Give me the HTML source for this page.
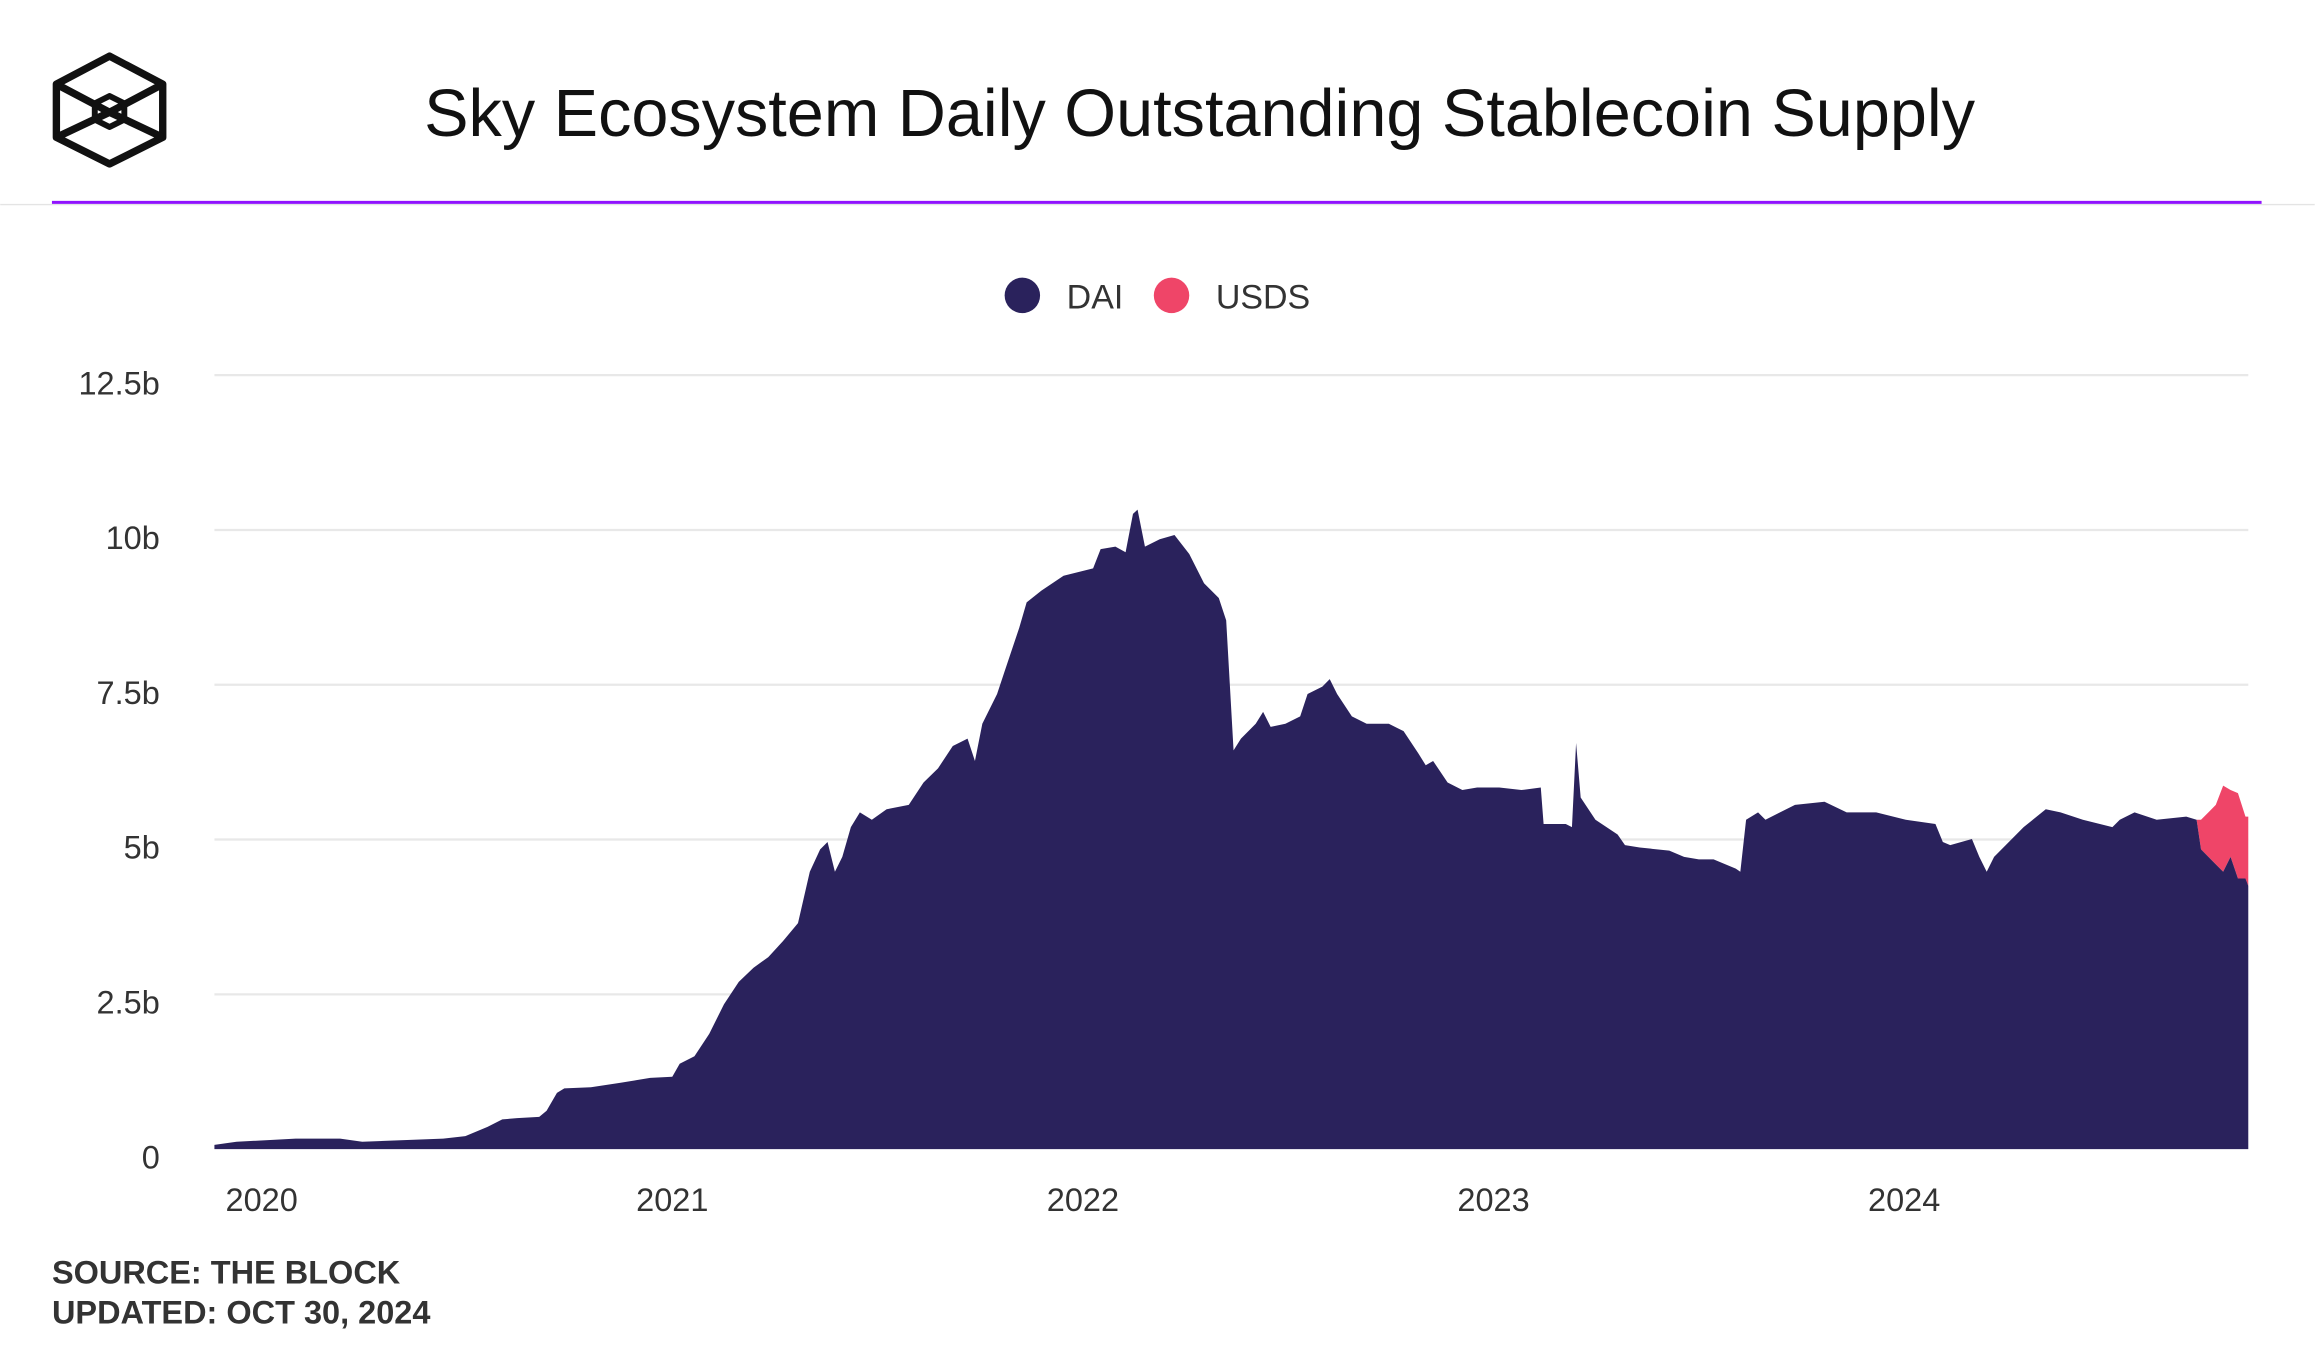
<!DOCTYPE html>
<html><head><meta charset="utf-8"><style>
html,body{margin:0;padding:0;background:#fff;}
svg{display:block;font-family:"Liberation Sans",sans-serif;}
</style></head><body>
<svg id="chart" width="2315" height="1350" viewBox="0 0 1567 914" xmlns="http://www.w3.org/2000/svg">
<g fill="none" stroke="#111" stroke-width="5" stroke-linejoin="round">
<polygon points="74,38 110,57 110,93 74,111 38,93 38,57"/>
<polyline points="38,57 74,76 110,57"/>
<polyline points="38,93 74,76 110,93"/>
<polygon points="74,65 84,70 84,81 74,86 64,81 64,70" stroke-width="4"/>
</g>
<text x="812" y="92" text-anchor="middle" font-size="45" textLength="1050" lengthAdjust="spacingAndGlyphs" fill="#111">Sky Ecosystem Daily Outstanding Stablecoin Supply</text>
<line x1="0" y1="138.5" x2="1567" y2="138.5" stroke="#e4e4e4" stroke-width="1"/>
<line x1="35" y1="137" x2="1531" y2="137" stroke="#9013fe" stroke-width="2"/>
<g>
<circle cx="692" cy="200" r="12" fill="#2a225c"/>
<text x="722" y="209" font-size="23" fill="#333">DAI</text>
<circle cx="793" cy="200" r="12" fill="#ef4568"/>
<text x="823" y="209" font-size="23" fill="#333">USDS</text>
</g>
<g id="grid"></g>
<g id="yaxis"></g>
<g id="xaxis"></g>
<g id="series"></g>
<text x="35" y="869" font-size="22" font-weight="bold" fill="#333">SOURCE: THE BLOCK</text>
<text x="35" y="896" font-size="22" font-weight="bold" fill="#333">UPDATED: OCT 30, 2024</text>
</svg>
<script>
const dates = [2019.885,2019.939,2020.083,2020.191,2020.245,2020.442,2020.496,2020.550,2020.586,2020.622,2020.676,2020.694,2020.719,2020.737,2020.802,2020.874,2020.946,2021.000,2021.018,2021.054,2021.090,2021.126,2021.162,2021.198,2021.234,2021.270,2021.306,2021.335,2021.360,2021.378,2021.396,2021.414,2021.435,2021.457,2021.486,2021.522,2021.576,2021.612,2021.647,2021.683,2021.719,2021.737,2021.755,2021.791,2021.809,2021.845,2021.863,2021.899,2021.953,2022.025,2022.043,2022.079,2022.104,2022.122,2022.133,2022.151,2022.187,2022.223,2022.259,2022.295,2022.331,2022.349,2022.367,2022.385,2022.421,2022.439,2022.457,2022.493,2022.529,2022.547,2022.583,2022.601,2022.619,2022.655,2022.691,2022.745,2022.781,2022.817,2022.835,2022.853,2022.888,2022.924,2022.960,2023.014,2023.068,2023.115,2023.122,2023.176,2023.191,2023.201,2023.212,2023.248,2023.302,2023.320,2023.356,2023.428,2023.464,2023.500,2023.536,2023.590,2023.601,2023.615,2023.644,2023.662,2023.734,2023.806,2023.860,2023.932,2024.004,2024.076,2024.094,2024.112,2024.165,2024.183,2024.201,2024.219,2024.255,2024.291,2024.345,2024.381,2024.435,2024.507,2024.525,2024.561,2024.615,2024.687,2024.712,2024.723,2024.741,2024.759,2024.777,2024.795,2024.813,2024.831,2024.838];
const daiValues = [0.07,0.12,0.17,0.17,0.12,0.17,0.21,0.36,0.48,0.50,0.52,0.62,0.91,0.98,1.00,1.07,1.15,1.17,1.38,1.50,1.86,2.34,2.70,2.93,3.10,3.36,3.65,4.48,4.84,4.96,4.48,4.72,5.20,5.44,5.32,5.49,5.56,5.92,6.15,6.51,6.63,6.27,6.87,7.35,7.71,8.42,8.83,9.02,9.26,9.38,9.69,9.73,9.64,10.26,10.33,9.73,9.85,9.92,9.61,9.14,8.90,8.54,6.44,6.63,6.87,7.06,6.82,6.87,6.99,7.35,7.47,7.59,7.35,6.99,6.87,6.87,6.75,6.39,6.20,6.27,5.92,5.80,5.84,5.84,5.80,5.84,5.25,5.25,5.20,6.56,5.68,5.32,5.08,4.91,4.87,4.82,4.72,4.68,4.68,4.53,4.48,5.32,5.44,5.32,5.56,5.61,5.44,5.44,5.32,5.25,4.96,4.91,5.01,4.72,4.48,4.72,4.96,5.20,5.49,5.44,5.32,5.20,5.32,5.44,5.32,5.37,5.32,4.84,4.72,4.60,4.48,4.72,4.37,4.37,4.25];
const usdsValues = [0,0,0,0,0,0,0,0,0,0,0,0,0,0,0,0,0,0,0,0,0,0,0,0,0,0,0,0,0,0,0,0,0,0,0,0,0,0,0,0,0,0,0,0,0,0,0,0,0,0,0,0,0,0,0,0,0,0,0,0,0,0,0,0,0,0,0,0,0,0,0,0,0,0,0,0,0,0,0,0,0,0,0,0,0,0,0,0,0,0,0,0,0,0,0,0,0,0,0,0,0,0,0,0,0,0,0,0,0,0,0,0,0,0,0,0,0,0,0,0,0,0,0,0,0,0,0,0.48,0.72,0.96,1.39,1.08,1.38,1.00,1.12];
const yTicks = [0,2.5,5,7.5,10,12.5];
const yTickLabels = ["0","2.5b","5b","7.5b","10b","12.5b"];
const xTicks = [2020,2021,2022,2023,2024];
const xTickLabels = ["2020","2021","2022","2023","2024"];

const NS="http://www.w3.org/2000/svg";
const X0=145,X1=1522,Y0=778,Y1=254;
const dMin=2019.885,dMax=2024.838,vMax=12.5;
function xScale(d){return X0+(d-dMin)/(dMax-dMin)*(X1-X0);}
function yScale(v){return Y0-v/vMax*(Y0-Y1);}
function mk(tag,attrs,parent){const e=document.createElementNS(NS,tag);for(const k in attrs)e.setAttribute(k,attrs[k]);parent.appendChild(e);return e;}
const gridG=document.getElementById('grid'),yaG=document.getElementById('yaxis'),xaG=document.getElementById('xaxis'),serG=document.getElementById('series');
yTicks.forEach((t,i)=>{
  if(t>0){const l=mk('line',{x1:X0,x2:X1,y1:yScale(t),y2:yScale(t),stroke:'#e8e8e8','stroke-width':1.5},gridG);
  
  }
  const tx=mk('text',{x:108,y:yScale(t)+13,'text-anchor':'end','font-size':22,fill:'#333'},yaG);
  tx.textContent=yTickLabels[i];
  
  
});
xTicks.forEach((t,i)=>{
  const tx=mk('text',{x:xScale(t),y:820,'text-anchor':'middle','font-size':22,fill:'#333'},xaG);
  tx.textContent=xTickLabels[i];
  
  
});
const topPts=dates.map((d,i)=>[xScale(d),yScale(daiValues[i]+usdsValues[i])]);
const botPts=dates.map((d,i)=>[xScale(d),yScale(daiValues[i])]).reverse();
const pu=mk('path',{d:'M'+topPts.concat(botPts).map(p=>p[0].toFixed(1)+','+p[1].toFixed(1)).join('L')+'Z',fill:'#ef4568'},serG);


const daiPts=dates.map((d,i)=>xScale(d).toFixed(1)+','+yScale(daiValues[i]).toFixed(1));
const pd=mk('path',{d:'M'+xScale(dates[0])+','+Y0+'L'+daiPts.join('L')+'L'+xScale(dates[dates.length-1])+','+Y0+'Z',fill:'#2a225c'},serG);


</script>
</body></html>
